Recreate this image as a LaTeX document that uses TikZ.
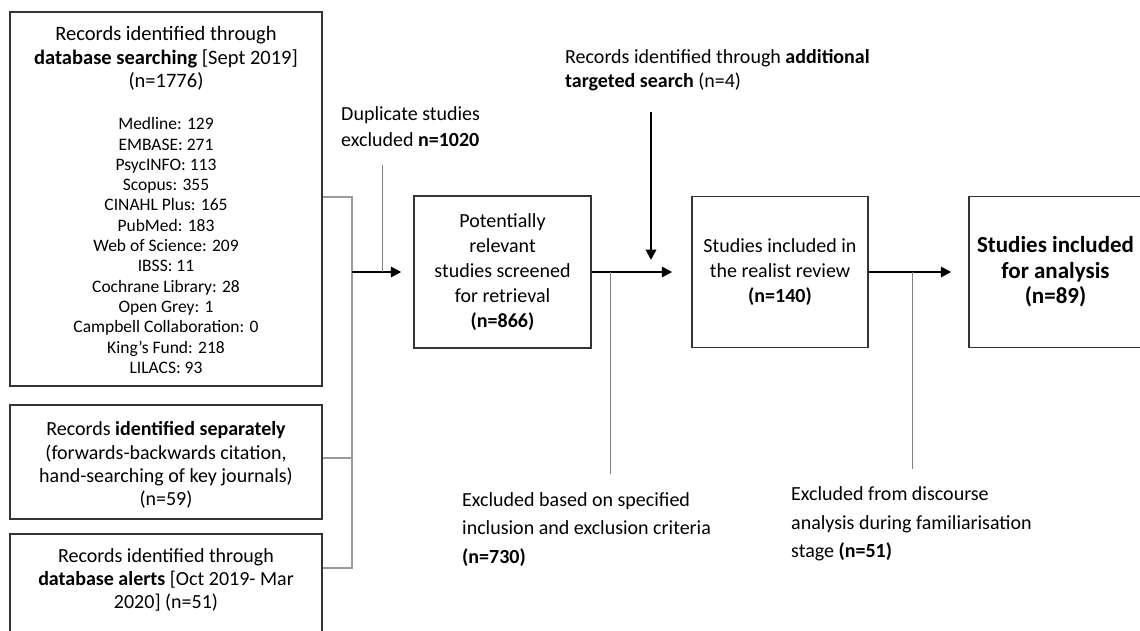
\documentclass[tikz,border=0pt]{standalone}
\usepackage{fontspec}
\setmainfont{Carlito}
\usetikzlibrary{arrows.meta}
\definecolor{boxc}{HTML}{333333}
\definecolor{grayc}{HTML}{9A9A9A}
\definecolor{grayc2}{HTML}{808080}
\begin{document}
\begin{tikzpicture}[x=1pt,y=-1pt,
  box/.style={draw=boxc, line width=1.5pt, rectangle, inner sep=0pt, align=center, font=\fontsize{20}{25}\selectfont},
  txt/.style={inner sep=0pt, align=center},
  lbl/.style={inner sep=0pt, align=left, anchor=west, font=\fontsize{20}{26}\selectfont},
  arr/.style={draw=black, line width=2pt, -{Triangle[length=10.5pt,width=10.5pt]}},
  grayln/.style={draw=grayc, line width=1.5pt},
  thinln/.style={draw=grayc2, line width=1pt}]
\useasboundingbox[fill=white] (0,0) rectangle (1140,630);

% left column
\node[box, minimum width=312pt, minimum height=374pt] (box1) at (166,199) {};
\node[txt, font=\fontsize{20.5}{23.3}\selectfont] (h1) at (166,58.5) {Records identified through\\\textbf{database searching} [Sept 2019]\\(n=1776)};
\node[txt, font=\fontsize{17.5}{20.3}\selectfont] (l1) at (166,245.5) {Medline: 129\\EMBASE: 271\\PsycINFO: 113\\Scopus: 355\\CINAHL Plus: 165\\PubMed: 183\\Web of Science: 209\\IBSS: 11\\Cochrane Library: 28\\Open Grey: 1\\Campbell Collaboration: 0\\King’s Fund: 218\\LILACS: 93};

\node[box, minimum width=312pt, minimum height=114pt] (box5) at (166,462) {};
\node[txt, font=\fontsize{20}{23.3}\selectfont] (t5) at (166,465) {Records \textbf{identified separately}\\(forwards-backwards citation,\\hand-searching of key journals)\\(n=59)};

\node[box, minimum width=312pt, minimum height=116pt] (box6) at (166,592) {};
\node[txt, font=\fontsize{20}{23.3}\selectfont] (t6) at (166,580) {Records identified through\\\textbf{database alerts} [Oct 2019- Mar\\2020] (n=51)};

% main boxes
\node[box, minimum width=177pt, minimum height=152pt] (box2) at (502.5,272) {Potentially\\relevant\\studies screened\\for retrieval\\\textbf{(n=866)}};
\node[box, minimum width=176pt, minimum height=151pt] (box3) at (780,272) {Studies included in\\the realist review\\\textbf{(n=140)}};
\node[box, minimum width=173pt, minimum height=151pt, font=\bfseries\fontsize{23}{25.5}\selectfont] (box4) at (1055.5,272) {Studies included\\for analysis\\(n=89)};

% labels
\node[lbl] (dup) at (341,127) {Duplicate studies\\excluded \textbf{n=1020}};
\node[lbl, font=\fontsize{20}{24}\selectfont] (add) at (565,70) {Records identified through \textbf{additional}\\\textbf{targeted search} (n=4)};
\node[lbl, font=\fontsize{20}{28.7}\selectfont] (ex1) at (462,529.5) {Excluded based on specified\\inclusion and exclusion criteria\\\textbf{(n=730)}};
\node[lbl, font=\fontsize{20}{28.7}\selectfont] (ex2) at (791,524) {Excluded from discourse\\analysis during familiarisation\\stage \textbf{(n=51)}};

% coordinates
\coordinate (brtop) at (352,197);
\coordinate (brmid) at (352,458);
\coordinate (brbot) at (352,568);
\coordinate (jA) at (352,272);
\coordinate (dupTop) at (382.5,165);
\coordinate (ex1b) at (610,474);
\coordinate (addTop) at (651,112);
\coordinate (addTip) at (651,260);
\coordinate (ex2b) at (912,469);

% connectors
\draw[grayln] (box1.east |- brtop) -- (brtop) -- (brbot) -- (box6.east |- brbot);
\draw[grayln] (box5.east |- brmid) -- (brmid);
\draw[arr, shorten >=12pt] (jA) -- (box2.west);
\draw[thinln] (dupTop) -- (dupTop |- jA);
\draw[arr, shorten >=19pt] (box2.east) -- (box3.west);
\draw[thinln] (ex1b |- box2.east) -- (ex1b);
\draw[arr] (addTop) -- (addTip);
\draw[arr, shorten >=17pt] (box3.east) -- (box4.west);
\draw[thinln] (ex2b |- box3.east) -- (ex2b);
\end{tikzpicture}
\end{document}
